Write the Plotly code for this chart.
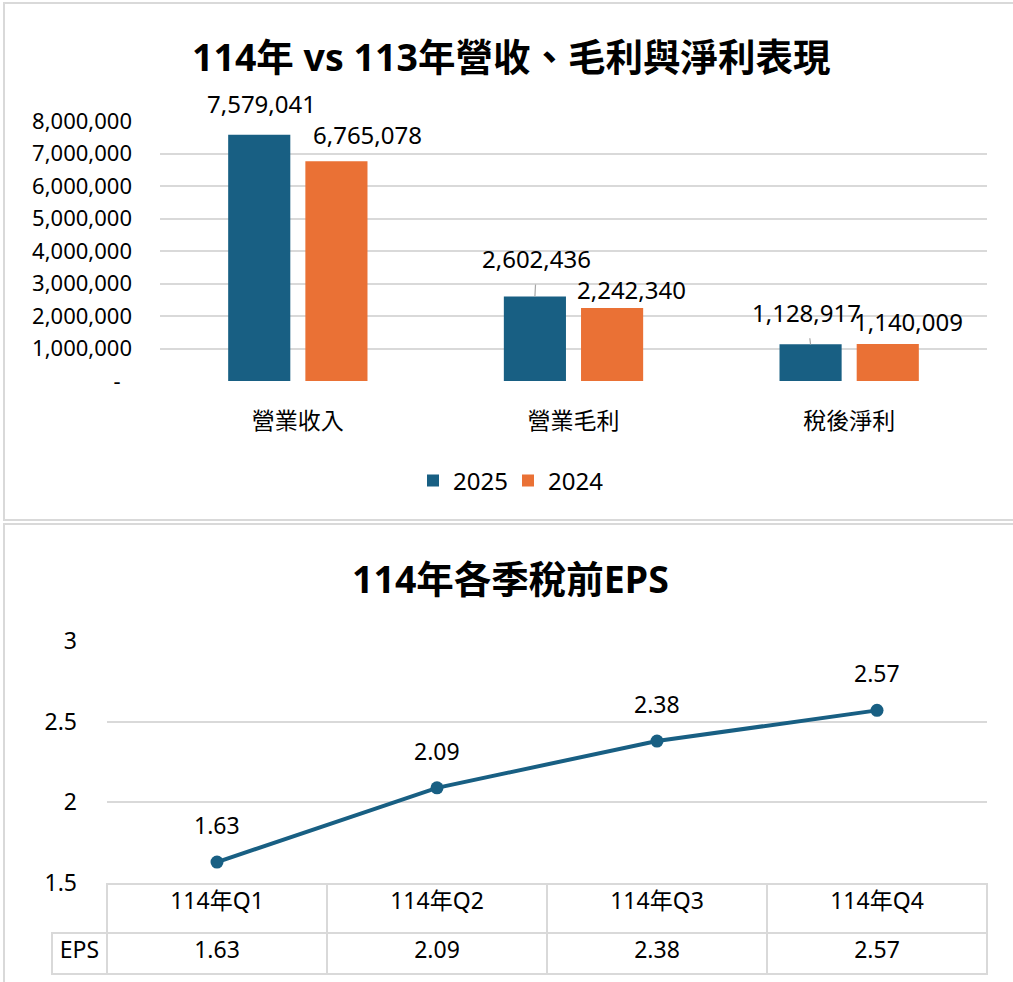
import plotly.graph_objects as go

# ---------------- data ----------------
categories = ["營業收入", "營業毛利", "稅後淨利"]
series_names = ["2025", "2024"]
values_2025 = [7579041, 2602436, 1128917]
values_2024 = [6765078, 2242340, 1140009]
y1_tickvals = [0, 1000000, 2000000, 3000000, 4000000, 5000000, 6000000, 7000000, 8000000]
y1_ticktext = ["-\u00a0\u00a0", "1,000,000", "2,000,000", "3,000,000", "4,000,000",
               "5,000,000", "6,000,000", "7,000,000", "8,000,000"]

quarters = ["114年Q1", "114年Q2", "114年Q3", "114年Q4"]
eps = [1.63, 2.09, 2.38, 2.57]
y2_tickvals = [1.5, 2, 2.5, 3]
y2_ticktext = ["1.5", "2", "2.5", "3"]

title_top = "114年 vs 113年營收、毛利與淨利表現"
title_bottom = "114年各季稅前EPS"

# ---------------- style ----------------
W, H = 1013, 982
FONT = "Noto Sans, Noto Sans CJK TC"
BLUE = "#185F83"
ORANGE = "#EA7135"
GRID = "#D9D9D9"
TXT = "#000000"
NONE = "rgba(0,0,0,0)"

def px(x):
    return x / W

def py(y):
    return 1 - y / H

fig = go.Figure()

fig.add_trace(go.Bar(x=categories, y=values_2025, name=series_names[0], marker_color=BLUE,
                     marker_line_width=0, xaxis="x", yaxis="y"))
fig.add_trace(go.Bar(x=categories, y=values_2024, name=series_names[1], marker_color=ORANGE,
                     marker_line_width=0, xaxis="x", yaxis="y"))

fig.add_trace(go.Scatter(x=quarters, y=eps, mode="lines+markers", showlegend=False,
                         line=dict(color=BLUE, width=4), marker=dict(size=13, color=BLUE),
                         xaxis="x2", yaxis="y2"))

fig.add_trace(go.Table(
    domain=dict(x=[px(52), px(987)], y=[0, py(884)]),
    columnwidth=[55, 220, 220, 220, 220],
    header=dict(values=[""] + quarters, height=49,
                fill_color=[NONE, "white", "white", "white", "white"],
                line=dict(color=[NONE, GRID, GRID, GRID, GRID], width=2),
                align="center", font=dict(family=FONT, size=23, color=TXT)),
    cells=dict(values=[["EPS"]] + [[f"{v:.2f}"] for v in eps], height=41,
               fill_color="white", line=dict(color=GRID, width=2),
               align="center", font=dict(family=FONT, size=23, color=TXT)),
))

# bar data labels (offsets are styling)
bar_off = 38.6
lab_2025 = [(2, -31, False), (2, -38, True), (-4, -32, True)]
lab_2024 = [(31, -27, False), (19, -19, False), (21, -22, False)]
annos = []
for vals, offs, sgn in [(values_2025, lab_2025, -1), (values_2024, lab_2024, 1)]:
    for c, v, (dx, dy, arrow) in zip(categories, vals, offs):
        a = dict(x=c, y=v, xref="x", yref="y", text=f"{v:,}",
                 font=dict(family=FONT, size=24, color=TXT),
                 xshift=sgn * bar_off)
        if arrow:
            a.update(showarrow=True, arrowhead=0, arrowwidth=1.2, arrowcolor="#A6A6A6",
                     ax=dx, ay=dy, axref="pixel", ayref="pixel", startstandoff=8)
        else:
            a.update(showarrow=False, xshift=sgn * bar_off + dx, yshift=-dy)
        annos.append(a)

for q, v in zip(quarters, eps):
    annos.append(dict(x=q, y=v, xref="x2", yref="y2", text=f"{v:.2f}", showarrow=False,
                      yshift=37, font=dict(family=FONT, size=23, color=TXT)))

annos.append(dict(x=px(511), y=py(57), xref="paper", yref="paper", text=f"<b>{title_top}</b>",
                  showarrow=False, xanchor="center", yanchor="middle",
                  font=dict(family=FONT, size=37.5, color=TXT)))
annos.append(dict(x=px(511), y=py(578), xref="paper", yref="paper", text=f"<b>{title_bottom}</b>",
                  showarrow=False, xanchor="center", yanchor="middle",
                  font=dict(family=FONT, size=37.5, color=TXT)))

shapes = [
    dict(type="rect", xref="paper", yref="paper", x0=px(4), x1=1.02, y0=py(520), y1=py(3),
         line=dict(color=GRID, width=2), fillcolor=NONE, layer="below"),
    dict(type="rect", xref="paper", yref="paper", x0=px(4), x1=1.02, y0=-0.05, y1=py(524),
         line=dict(color=GRID, width=2), fillcolor=NONE, layer="below"),
]

fig.update_layout(
    width=W, height=H, margin=dict(l=0, r=0, t=0, b=0, autoexpand=False),
    paper_bgcolor="white", plot_bgcolor="white",
    barmode="group", bargap=0.44, bargroupgap=0.195,
    font=dict(family=FONT, color=TXT),
    annotations=annos, shapes=shapes,
    legend=dict(orientation="h", x=px(413), xanchor="left", y=py(481), yanchor="middle",
                font=dict(family=FONT, size=24, color=TXT), itemwidth=30,
                entrywidth=50, traceorder="normal", bgcolor=NONE),
    xaxis=dict(domain=[px(160), px(987)], anchor="y", showgrid=False, showline=False,
               automargin=False, ticks="", tickfont=dict(family=FONT, size=23, color=TXT),
               ticklabelstandoff=24),
    yaxis=dict(domain=[py(381), py(121)], anchor="x", range=[0, 8000000], automargin=False,
               tickvals=y1_tickvals, ticktext=y1_ticktext, showgrid=True, gridcolor=GRID,
               gridwidth=2, zeroline=False, showline=False, ticks="",
               tickfont=dict(family=FONT, size=22, color=TXT), ticklabelstandoff=27),
    xaxis2=dict(domain=[px(107), px(987)], anchor="y2", range=[-0.5, 3.5], type="category",
                automargin=False, showticklabels=False, showgrid=False, showline=False, ticks=""),
    yaxis2=dict(domain=[py(883), py(641)], anchor="x2", range=[1.5, 3], automargin=False,
                tickvals=y2_tickvals, ticktext=y2_ticktext, showgrid=True, gridcolor=GRID,
                gridwidth=2, zeroline=False, showline=False, ticks="",
                tickfont=dict(family=FONT, size=23, color=TXT), ticklabelstandoff=29),
)

fig.write_html("out.html", post_script="document.body.style.margin='0';",
               config={"displayModeBar": False})
